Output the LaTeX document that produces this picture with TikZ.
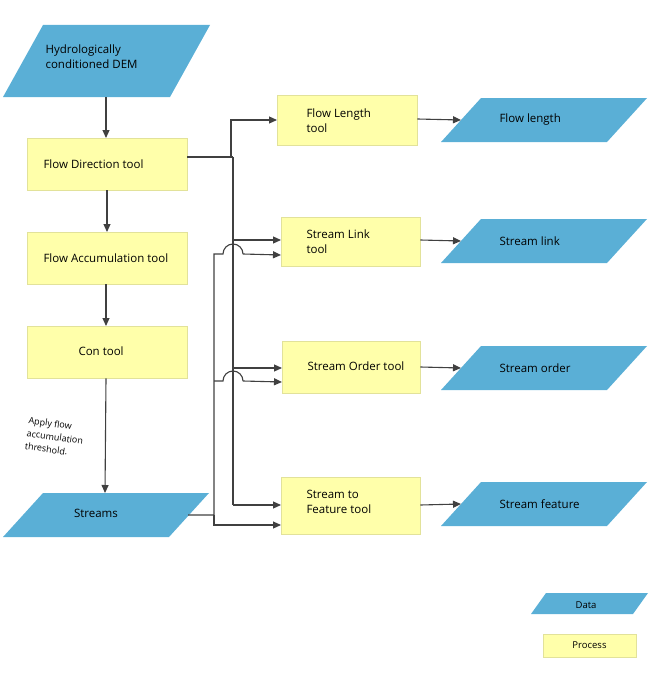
\documentclass[tikz,border=0pt]{standalone}
\usepackage{fontspec}
\setmainfont{Open Sans}
\usetikzlibrary{arrows.meta}
\definecolor{dblue}{HTML}{5AAFD6}
\definecolor{pyel}{HTML}{FFFFAA}
\definecolor{pedge}{HTML}{E2E29A}
\definecolor{ln}{HTML}{404040}
\tikzset{
 proc/.style={draw=pedge,fill=pyel,minimum width=#1,minimum height=52pt,inner sep=0pt},
 para/.style={fill=dblue},
 lbl/.style={font=\fontsize{11.5}{15}\selectfont,align=left},
 conn/.style={draw=ln,line width=1.1pt,-{Triangle[length=8pt,width=7pt]}},
 plain/.style={draw=ln,line width=1.1pt}
}
\begin{document}
\begin{tikzpicture}[x=1pt,y=-1pt]
\useasboundingbox (0,0) rectangle (650,677);
% data parallelograms
\fill[para] (43,25)--(210,25)--(170,97)--(3,97)--cycle;
\node[lbl,anchor=west] (dem) at (42,57) {Hydrologically\\conditioned DEM};
\coordinate (demb) at (106,97);
\fill[para] (43,493)--(209,493)--(169,537)--(3,537)--cycle;
\node[lbl] (str) at (96,513) {Streams};
\coordinate (strt) at (105,493);
\coordinate (strr) at (188,515);
\foreach \y/\n/\t in {98/ofl/Flow length,219/osl/Stream link,346/oso/Stream order,482/osf/Stream feature}{
 \fill[para] (481,\y)--(647,\y)--(607,\y+44)--(441,\y+44)--cycle;
 \node[lbl,anchor=west] (\n) at (496,\y+22) {\t};
 \coordinate (\n w) at (461,\y+22);
}
% legend
\fill[para] (546,593)--(648,593)--(633,614)--(531,614)--cycle;
\node[font=\fontsize{9.5}{11}\selectfont] (ldata) at (586,605) {Data};
\node[proc=93pt,minimum height=23pt,font=\fontsize{9.5}{11}\selectfont] (lproc) at (589.5,645.5) {Process};
% processes
\node[proc=160pt,anchor=north west] (fd) at (27,138) {};
\node[proc=160pt,anchor=north west] (fa) at (27,232) {};
\node[proc=160pt,anchor=north west] (con) at (27,326) {};
\node[proc=140pt,minimum height=50pt,anchor=north west] (fl) at (277,95) {};
\node[proc=139pt,minimum height=49pt,anchor=north west] (sl) at (281,217) {};
\node[proc=138pt,anchor=north west] (so) at (282,341) {};
\node[proc=139pt,minimum height=57pt,anchor=north west] (sf) at (281,477) {};
\node[lbl,anchor=west] (fdt) at (40,164) {Flow Direction tool};
\node[lbl,anchor=west] (fat) at (40,258) {Flow Accumulation tool};
\node[lbl,anchor=west] (cont) at (75,351) {Con tool};
\node[lbl,anchor=west] (flt) at (303,121) {Flow Length\\tool};
\node[lbl,anchor=west] (slt) at (303,242) {Stream Link\\tool};
\node[lbl,anchor=west] (sot) at (304,366) {Stream Order tool};
\node[lbl,anchor=west] (sft) at (303,502) {Stream to\\Feature tool};
% label
\node[align=left,rotate=-8,font=\fontsize{9}{13}\selectfont,inner sep=0pt] (thr) at (55,437) {Apply flow\\accumulation\\threshold.};
% vertical chain
\draw[conn] (demb) -- (fd.north -| demb);
\draw[conn] (fd.south -| 107,0) -- (fa.north -| 107,0);
\draw[conn] (fa.south -| 106,0) -- (con.north -| 106,0);
\draw[conn] (con.south -| 106,0) -- (strt);
% flow direction fan-out
\coordinate (j1) at (233,157);
\draw[plain] (fd.east |- j1) -- (j1);
\draw[conn] (231,157) -- (231,120) -- (fl.west |- 0,120);
\draw[plain] (233,157) -- (233,505);
\draw[conn] (233,240) -- (sl.west |- 0,240);
\draw[conn] (233,368) -- (so.west |- 0,368);
\draw[conn] (233,505) -- (sf.west |- 0,505);
% streams fan-out with hops
\draw[plain] (strr) -- (214,515) -- (214,254) -- (223,254) arc (180:360:10);
\draw[conn] (243,254) -- (sl.west |- 0,255);
\draw[plain] (214,381) -- (223,381) arc (180:360:10);
\draw[conn] (243,381) -- (so.west |- 0,382);
\draw[conn] (214,515) -- (214,525) -- (sf.west |- 0,525);
% outputs
\draw[conn] (fl.east |- 0,119) -- (oflw);
\draw[conn] (sl.east |- 0,240) -- (oslw);
\draw[conn] (so.east |- 0,367) -- (osow);
\draw[conn] (sf.east |- 0,505) -- (osfw);
\end{tikzpicture}
\end{document}
